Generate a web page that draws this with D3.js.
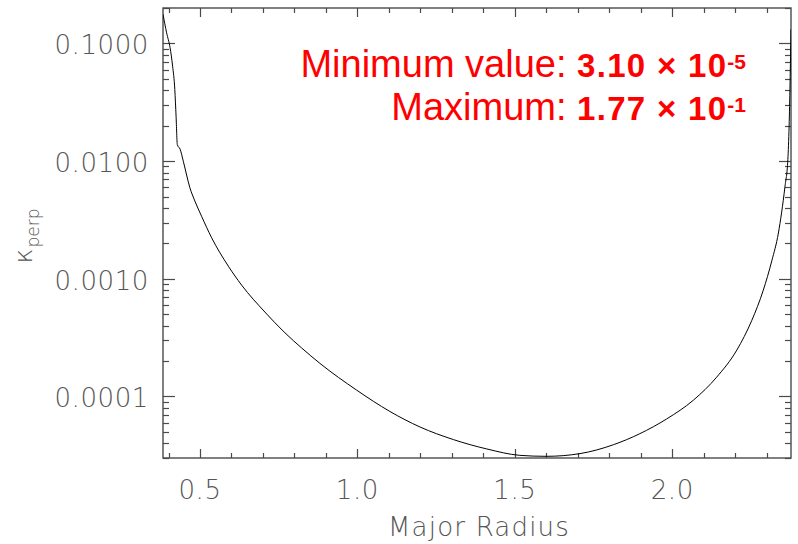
<!DOCTYPE html>
<html>
<head>
<meta charset="utf-8">
<script src="https://cdn.jsdelivr.net/npm/d3@7"></script>
<style>
  html, body { margin: 0; padding: 0; background: #fff; }
  svg { display: block; }
</style>
</head>
<body>
<svg id="chart" width="798" height="544"></svg>
<script>
// Perpendicular diffusion coefficient versus major radius
const radius = [0.3825, 0.394, 0.405, 0.413, 0.420, 0.424, 0.428, 0.437, 0.447, 0.468,
                0.484, 0.505, 0.537, 0.590, 0.632, 0.706, 0.770, 0.823, 0.881, 0.998,
                1.103, 1.199, 1.305, 1.411, 1.516, 1.600, 1.707, 1.813, 1.897, 1.982,
                2.067, 2.141, 2.205, 2.252, 2.289, 2.316, 2.337, 2.347, 2.358, 2.367,
                2.371, 2.377];
const kperp  = [0.177, 0.123, 0.0919, 0.0641, 0.0406, 0.0241, 0.0138, 0.0126, 0.00997, 0.00593,
                0.00456, 0.00340, 0.00223, 0.00128, 0.000885, 0.000522, 0.000347, 0.000258, 0.000191, 0.000113,
                7.46e-5, 5.50e-5, 4.30e-5, 3.58e-5, 3.16e-5, 3.10e-5, 3.27e-5, 3.89e-5, 4.83e-5, 6.44e-5,
                9.30e-5, 1.46e-4, 2.48e-4, 4.40e-4, 8.00e-4, 1.42e-3, 2.45e-3, 3.63e-3, 6.12e-3, 0.0103,
                0.0198, 0.132];

const xMajorTicks = [0.5, 1.0, 1.5, 2.0];
const xTickLabels = ["0.5", "1.0", "1.5", "2.0"];
const yMajorTicks = [0.1, 0.01, 0.001, 0.0001];
const yTickLabels = ["0.1000", "0.0100", "0.0010", "0.0001"];

const minValue = { mantissa: "3.10", exponent: "-5" };
const maxValue = { mantissa: "1.77", exponent: "-1" };

const svg = d3.select("#chart");
const plotL = 163, plotR = 791, plotT = 8, plotB = 458;

const x = d3.scaleLinear().domain([0.3825, 2.377]).range([plotL, plotR]);
const y = d3.scaleLog().domain([3e-5, 0.2]).range([plotB, plotT]);

const axisColor = "#4a4a4a";
const labelFont = "'DejaVu Sans', sans-serif";
const labelColor = "#555";

// minor ticks: every 0.1 along x, 2..9 per decade along y
const xMinor = d3.range(4, 24).map(d => d / 10)
  .filter(v => v >= x.domain()[0] && v <= x.domain()[1] && !xMajorTicks.some(m => Math.abs(m - v) < 1e-9));
const yMinor = [];
[-5, -4, -3, -2, -1].forEach(e => {
  for (let k = 2; k <= 9; k++) {
    const v = k * Math.pow(10, e);
    if (v >= y.domain()[0] && v <= y.domain()[1]) yMinor.push(v);
  }
});

const g = svg.append("g");

// frame
g.append("rect")
  .attr("x", plotL).attr("y", plotT)
  .attr("width", plotR - plotL).attr("height", plotB - plotT)
  .attr("fill", "none").attr("stroke", axisColor).attr("stroke-width", 1.4);

// x ticks (bottom and top, pointing inward)
function xTicks(vals, major) {
  const len = major ? 9 : 5;
  vals.forEach(v => {
    const px = Math.round(x(v)) + 0.5;
    g.append("line").attr("x1", px).attr("x2", px).attr("y1", plotB).attr("y2", plotB - len)
      .attr("stroke", axisColor).attr("stroke-width", 1.2);
    g.append("line").attr("x1", px).attr("x2", px).attr("y1", plotT).attr("y2", plotT + len)
      .attr("stroke", axisColor).attr("stroke-width", 1.2);
  });
}
xTicks(xMajorTicks, true);
xTicks(xMinor, false);

// y ticks (left and right, pointing inward)
function yTicks(vals, major) {
  const len = major ? 12 : 6;
  vals.forEach(v => {
    const py = Math.round(y(v)) + 0.5;
    g.append("line").attr("x1", plotL).attr("x2", plotL + len).attr("y1", py).attr("y2", py)
      .attr("stroke", axisColor).attr("stroke-width", 1.2);
    g.append("line").attr("x1", plotR).attr("x2", plotR - len).attr("y1", py).attr("y2", py)
      .attr("stroke", axisColor).attr("stroke-width", 1.2);
  });
}
yTicks(yMajorTicks, true);
yTicks(yMinor, false);

// tick labels
g.selectAll("text.xl").data(xMajorTicks).enter().append("text")
  .attr("class", "xl")
  .attr("x", d => x(d)).attr("y", 499)
  .attr("text-anchor", "middle")
  .attr("font-family", labelFont).attr("font-weight", 200).attr("font-size", 26)
  .attr("letter-spacing", 0.6)
  .attr("fill", labelColor)
  .text((d, i) => xTickLabels[i]);

g.selectAll("text.yl").data(yMajorTicks).enter().append("text")
  .attr("class", "yl")
  .attr("x", 149).attr("y", d => y(d) + 11)
  .attr("text-anchor", "end")
  .attr("font-family", labelFont).attr("font-weight", 200).attr("font-size", 26)
  .attr("letter-spacing", 0.6)
  .attr("fill", labelColor)
  .text((d, i) => yTickLabels[i]);

// axis titles
g.append("text")
  .attr("x", (plotL + plotR) / 2 + 2).attr("y", 536)
  .attr("text-anchor", "middle")
  .attr("font-family", labelFont).attr("font-weight", 200).attr("font-size", 26)
  .attr("letter-spacing", 1.2)
  .attr("fill", labelColor)
  .text("Major Radius");

const yt = g.append("text")
  .attr("transform", "translate(32,236) rotate(-90)")
  .attr("text-anchor", "middle")
  .attr("font-family", labelFont).attr("font-weight", 200)
  .attr("fill", labelColor);
yt.append("tspan").attr("font-size", 25).text("κ");
yt.append("tspan").attr("font-size", 17).attr("dy", 7).attr("dx", 1).text("perp");

// the curve
const pts = radius.map((r, i) => [r, kperp[i]]);
svg.append("clipPath").attr("id", "plotClip")
  .append("rect").attr("x", plotL).attr("y", plotT).attr("width", plotR - plotL).attr("height", plotB - plotT);
g.append("path")
  .datum(pts)
  .attr("clip-path", "url(#plotClip)")
  .attr("fill", "none")
  .attr("stroke", "#000")
  .attr("stroke-width", 1)
  .attr("d", d3.line().x(d => x(d[0])).y(d => y(d[1])).curve(d3.curveMonotoneX));

// annotation with the extreme values
function annotate(baseline, lead, val) {
  const t = g.append("text")
    .attr("x", 746).attr("y", baseline)
    .attr("text-anchor", "end")
    .attr("font-family", "'Liberation Sans', Arial, sans-serif")
    .attr("fill", "#ff0000");
  t.append("tspan").attr("font-size", 38).text(lead + " ");
  t.append("tspan").attr("font-size", 33).attr("font-weight", "bold").attr("letter-spacing", 1.3)
    .text(val.mantissa + " \u00d7 10");
  t.append("tspan").attr("font-size", 21).attr("font-weight", "bold").attr("dy", -8).text(val.exponent);
}
annotate(77, "Minimum value:", minValue);
annotate(120, "Maximum:", maxValue);
</script>
</body>
</html>
